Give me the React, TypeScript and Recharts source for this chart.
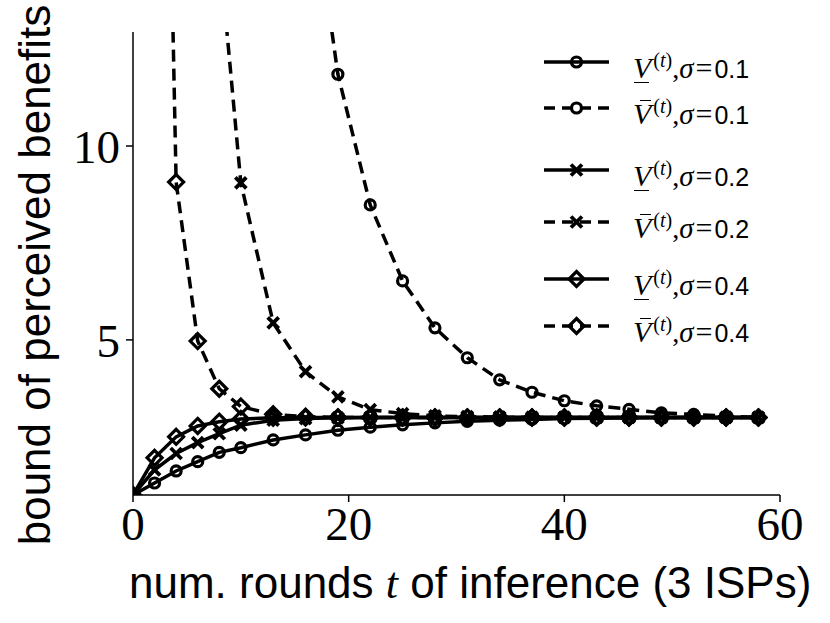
import React from 'react';
import {
  LineChart,
  Line,
  XAxis,
  YAxis,
  Legend
} from 'recharts';

// rounds t where the markers sit
const T = [0, 2, 4, 6, 8, 10, 13, 16, 19, 22, 25, 28, 31, 34, 37, 40, 43, 46, 49, 52, 55, 58];

// lower bounds (solid)
const lower01 = [1.0, 1.31, 1.62, 1.86, 2.1, 2.22, 2.42, 2.55, 2.67, 2.75, 2.81, 2.86, 2.9, 2.93, 2.95, 2.97, 2.98, 2.99, 3.0, 3.0, 3.0, 3.0];
const lower02 = [1.0, 1.65, 2.07, 2.35, 2.58, 2.8, 2.93, 2.97, 2.99, 3.0, 3.0, 3.0, 3.0, 3.0, 3.0, 3.0, 3.0, 3.0, 3.0, 3.0, 3.0, 3.0];
const lower04 = [1.0, 1.96, 2.5, 2.78, 2.89, 2.96, 2.99, 3.0, 3.0, 3.0, 3.0, 3.0, 3.0, 3.0, 3.0, 3.0, 3.0, 3.0, 3.0, 3.0, 3.0, 3.0];

// upper bounds (dashed), starting at T[start]
const upper01 = [17.8, 11.85, 8.48, 6.52, 5.31, 4.54, 3.97, 3.65, 3.43, 3.3, 3.21, 3.12, 3.08, 3.03, 3.0];
const upper02 = [15.1, 9.05, 5.44, 4.18, 3.53, 3.2, 3.1, 3.04, 3.02, 3.01, 3.0, 3.0, 3.0, 3.0, 3.0, 3.0, 3.0, 3.0];
const upper04 = [36, 9.07, 4.97, 3.74, 3.28, 3.08, 3.02, 3.0, 3.0, 3.0, 3.0, 3.0, 3.0, 3.0, 3.0, 3.0, 3.0, 3.0, 3.0, 3.0, 3.0];

const sigmas = ['0.1', '0.1', '0.2', '0.2', '0.4', '0.4'];
const xTicks = [0, 20, 40, 60];
const yTicks = [5, 10];

const SERIF = '"Liberation Serif", "DejaVu Serif", serif';
const SANS = '"Liberation Sans", Arial, sans-serif';

type Kind = 'circle' | 'cross' | 'diamond';

const series = [
  { id: 'lo01', values: lower01, start: 0, kind: 'circle' as Kind, dashed: false, sigma: sigmas[0] },
  { id: 'up01', values: upper01, start: 7, kind: 'circle' as Kind, dashed: true, sigma: sigmas[1] },
  { id: 'lo02', values: lower02, start: 0, kind: 'cross' as Kind, dashed: false, sigma: sigmas[2] },
  { id: 'up02', values: upper02, start: 4, kind: 'cross' as Kind, dashed: true, sigma: sigmas[3] },
  { id: 'lo04', values: lower04, start: 0, kind: 'diamond' as Kind, dashed: false, sigma: sigmas[4] },
  { id: 'up04', values: upper04, start: 1, kind: 'diamond' as Kind, dashed: true, sigma: sigmas[5] }
];

const DASH = '12 7';
const LW = 3.5;

function Marker({ cx, cy, kind }: { cx: number; cy: number; kind: Kind }) {
  if (kind === 'circle') {
    return <circle cx={cx} cy={cy} r={5} fill='none' stroke='#000' strokeWidth={3.2} />;
  }
  if (kind === 'cross') {
    const s = 5.5;
    return (
      <path
        d={`M${cx - s},${cy - s}L${cx + s},${cy + s}M${cx - s},${cy + s}L${cx + s},${cy - s}`}
        stroke='#000'
        strokeWidth={3.8}
        fill='none'
      />
    );
  }
  const d = 7.5;
  return (
    <path
      d={`M${cx},${cy - d}L${cx + d},${cy}L${cx},${cy + d}L${cx - d},${cy}Z`}
      fill='none'
      stroke='#000'
      strokeWidth={3.2}
    />
  );
}

const renderDot = (kind: Kind) => (p: any) => {
  if (p.cx == null || p.cy == null || p.value == null) return <g key={`d-${p.index}`} />;
  return (
    <g key={`d-${p.index}`}>
      <Marker cx={p.cx} cy={p.cy} kind={kind} />
    </g>
  );
};

const rowCenters = [62, 108, 170, 222, 279, 326];

function BarV({ upper }: { upper: boolean }) {
  return (
    <span
      style={{
        position: 'relative',
        display: 'inline-block',
        fontFamily: SERIF,
        fontStyle: 'italic',
        lineHeight: '40px'
      }}
    >
      V
      <span
        style={{
          position: 'absolute',
          left: upper ? 7 : 1,
          width: upper ? 11 : 15,
          height: 1.6,
          top: upper ? 6 : 34,
          background: '#000'
        }}
      />
    </span>
  );
}

function LegendBox() {
  return (
    <div style={{ position: 'relative', width: 250, height: 360 }}>
      {series.map((s, i) => (
        <div
          key={s.id}
          style={{
            position: 'absolute',
            left: 0,
            top: rowCenters[i] - 20,
            height: 40,
            display: 'flex',
            alignItems: 'center',
            whiteSpace: 'nowrap'
          }}
        >
          <svg width={70} height={40}>
            <line
              x1={4}
              x2={69}
              y1={20}
              y2={20}
              stroke='#000'
              strokeWidth={LW}
              strokeDasharray={s.dashed ? '11 7' : undefined}
            />
            <Marker cx={36.5} cy={20} kind={s.kind} />
          </svg>
          <span style={{ marginLeft: 23, fontSize: 30, lineHeight: '40px', color: '#000', position: 'relative', top: 2 }}>
            <BarV upper={s.dashed} />
            <sup style={{ fontFamily: SERIF, fontSize: 20, verticalAlign: 11, marginLeft: 2 }}>
              (<span style={{ fontStyle: 'italic' }}>t</span>)
            </sup>
            <span style={{ fontFamily: SERIF, fontSize: 28 }}>,</span>
            <span style={{ fontFamily: SERIF, fontStyle: 'italic', fontSize: 29 }}>σ</span>
            <span style={{ fontFamily: SERIF, fontSize: 30, margin: '0 2px' }}>=</span>
            <span style={{ fontFamily: SANS, fontSize: 25 }}>{s.sigma}</span>
          </span>
        </div>
      ))}
    </div>
  );
}

const XLabel = (props: any) => {
  const vb = props.viewBox;
  return (
    <text x={vb.x - 4} y={vb.y + 103} fontFamily={SANS} fontSize={44} fill='#000' textAnchor='start'>
      num. rounds <tspan fontFamily={SERIF} fontStyle='italic'>t</tspan> of inference (3 ISPs)
    </text>
  );
};

const YLabel = (props: any) => {
  const vb = props.viewBox;
  const x = vb.x + 50;
  const y = vb.y + 243;
  return (
    <text
      x={x}
      y={y}
      transform={`rotate(-90, ${x}, ${y})`}
      fontFamily={SANS}
      fontSize={44}
      fill='#000'
      textAnchor='middle'
    >
      bound of perceived benefits
    </text>
  );
};

export default function App() {
  const tickStyle = { fontFamily: SERIF, fontSize: 47, fill: '#000' };
  return (
    <div style={{ position: 'absolute', left: 0, top: 0, width: 830, height: 623, background: '#fff' }}>
      <LineChart width={830} height={623} margin={{ top: 32, right: 50, bottom: 0, left: 0 }}>
        <XAxis
          xAxisId='main'
          dataKey='t'
          type='number'
          domain={[0, 60]}
          ticks={xTicks}
          height={128}
          tickSize={7}
          tickMargin={5}
          tick={tickStyle}
          axisLine={{ stroke: '#000', strokeWidth: 1.5 }}
          tickLine={{ stroke: '#000', strokeWidth: 1.5 }}
          allowDataOverflow
          label={{ content: XLabel }}
        />
        <XAxis
          xAxisId='top'
          orientation='top'
          type='number'
          domain={[0, 60]}
          height={0}
          tick={false}
          tickLine={false}
          axisLine={{ stroke: '#000', strokeWidth: 1.5 }}
        />
        <YAxis
          yAxisId='main'
          type='number'
          domain={[1, 12.94]}
          ticks={yTicks}
          width={133}
          tickSize={7}
          tickMargin={6}
          tick={tickStyle}
          axisLine={{ stroke: '#000', strokeWidth: 1.5 }}
          tickLine={{ stroke: '#000', strokeWidth: 1.5 }}
          allowDataOverflow
          label={{ content: YLabel }}
        />
        <YAxis
          yAxisId='right'
          orientation='right'
          type='number'
          domain={[1, 12.94]}
          width={0}
          tick={false}
          tickLine={false}
          axisLine={{ stroke: '#000', strokeWidth: 1.5 }}
        />
        {series.map(s => (
          <Line
            key={s.id}
            xAxisId='main'
            yAxisId='main'
            data={s.values.map((v, i) => ({ t: T[s.start + i], v }))}
            dataKey='v'
            type='linear'
            stroke='#000'
            strokeWidth={LW}
            strokeDasharray={s.dashed ? DASH : undefined}
            dot={renderDot(s.kind)}
            activeDot={false}
            isAnimationActive={false}
          />
        ))}
        <Legend
          verticalAlign='middle'
          layout='horizontal'
          content={() => <LegendBox />}
          wrapperStyle={{ position: 'absolute', left: 540, top: 0, width: 250, height: 360 }}
        />
      </LineChart>
    </div>
  );
}
